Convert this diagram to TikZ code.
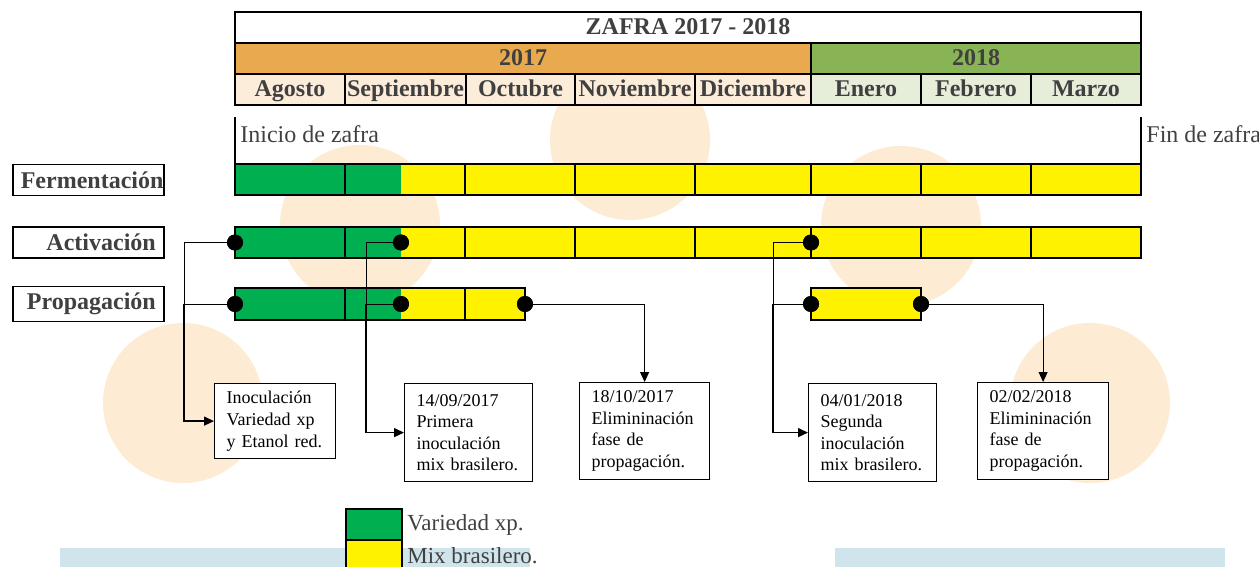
\documentclass[tikz,border=0pt]{standalone}
\usepackage{fontspec}
\setmainfont{Liberation Serif}
\usetikzlibrary{arrows.meta}
\definecolor{peach}{RGB}{253,235,212}
\definecolor{skyb}{RGB}{207,228,235}
\definecolor{orng}{RGB}{232,169,79}
\definecolor{olive}{RGB}{137,180,85}
\definecolor{cream}{RGB}{252,236,218}
\definecolor{pale}{RGB}{230,238,218}
\definecolor{vgreen}{RGB}{0,176,80}
\definecolor{ink}{RGB}{64,64,64}
\tikzset{
  hdr/.style={font=\fontsize{12}{14}\selectfont\bfseries, text=ink, inner sep=0pt, anchor=base},
  phase/.style={draw, line width=0.8pt, fill=white, anchor=west, font=\fontsize{12}{14}\selectfont\bfseries,
    text=ink, align=right, text width=67.5pt, inner xsep=4pt, minimum height=15.5pt},
  evbox/.style={draw, line width=0.6pt, fill=white, anchor=north west, align=left,
    font=\fontsize{9}{10.8}\selectfont, inner xsep=6pt},
  dot/.style={circle, fill=black, inner sep=0pt, minimum size=8pt},
  conn/.style={line width=0.5pt},
  feed/.style={line width=0.7pt, -{Triangle[length=5pt,width=4.5pt]}},
  plain/.style={font=\fontsize{12}{14}\selectfont, text=ink},
}
\begin{document}
\begin{tikzpicture}[x=0.5pt,y=-0.5pt]
\useasboundingbox (0,0) rectangle (1259,567);
\fill[peach] (183,403) ellipse [x radius=80, y radius=80];
\fill[peach] (1090,403) ellipse [x radius=80, y radius=80];
\fill[peach] (360,225) ellipse [x radius=80, y radius=80];
\fill[peach] (630,140) ellipse [x radius=80, y radius=80];
\fill[peach] (901,226) ellipse [x radius=80, y radius=80];
\fill[skyb] (60,548) rectangle (530,567);
\fill[skyb] (835,548) rectangle (1225,567);
% cabecera
\draw[line width=1pt, fill=white] (235,12) rectangle (1141,43);
\draw[line width=1pt, fill=orng] (235,43) rectangle (811,74);
\draw[line width=1pt, fill=olive] (811,43) rectangle (1141,74);
\draw[line width=1pt, fill=cream] (235,74) rectangle (811,105);
\draw[line width=1pt, fill=pale] (811,74) rectangle (1141,105);
\foreach \m in {345,466,575,695,921,1031} \draw[line width=1pt] (\m,74) -- (\m,105);
\node[hdr] (zafra) at (688,35) {ZAFRA 2017 - 2018};
\node[hdr] (y17) at (523,66) {2017};
\node[hdr] (y18) at (976,66) {2018};
\foreach \nm/\cx in {Agosto/290,Septiembre/405.5,Octubre/520.5,Noviembre/635,Diciembre/753,Enero/866,Febrero/976,Marzo/1086}
  \node[hdr] (m-\nm) at (\cx,97) {\nm};
% inicio y fin
\coordinate (ini) at (235,117);
\coordinate (fin) at (1141,117);
\draw[line width=0.8pt] (ini) -- (235,165);
\draw[line width=0.8pt] (fin) -- (1141,165);
\node[plain, anchor=base west, inner sep=0pt] (tini) at (240,142) {Inicio de zafra};
\node[plain, anchor=base west, inner sep=0pt] (tfin) at (1146,142) {Fin de zafra};
% barras
\foreach \r in {164,227} {
  \fill[vgreen] (235,\r) rectangle (401,\r+31);
  \fill[yellow] (401,\r) rectangle (1141,\r+31);
  \foreach \m in {345,465,575,695,811,921,1031} \draw[line width=0.8pt] (\m,\r) -- (\m,\r+31);
  \draw[line width=1pt] (235,\r) rectangle (1141,\r+31);
}
\fill[vgreen] (235,288) rectangle (401,320);
\fill[yellow] (401,288) rectangle (525,320);
\draw[line width=0.8pt] (345,288) -- (345,320);
\draw[line width=0.8pt] (465,288) -- (465,320);
\draw[line width=1pt] (235,288) rectangle (525,320);
\draw[line width=1pt, fill=yellow] (811,288) rectangle (921,320);
\node[phase] (ferm) at (12,180) {Fermentación};
\node[phase] (acti) at (12,242.5) {Activación};
\node[phase] (prop) at (12,304) {Propagación};
% cuadros
\node[evbox, text width=48.5pt, minimum height=37.5pt] (b1) at (214,383) {Inoculación\\Variedad xp\\y Etanol red.};
\node[evbox, text width=52pt, minimum height=49pt] (b2) at (404,383) {14/09/2017\\Primera\\inoculación\\mix brasilero.};
\node[evbox, text width=53pt, minimum height=48.5pt] (b3) at (579,382) {18/10/2017\\Elimininación\\fase de\\propagación.};
\node[evbox, text width=52pt, minimum height=49pt] (b4) at (808,383) {04/01/2018\\Segunda\\inoculación\\mix brasilero.};
\node[evbox, text width=53.5pt, minimum height=48.5pt] (b5) at (977,382) {02/02/2018\\Elimininación\\fase de\\propagación.};
% puntos
\node[dot] (a1) at (235,242.5) {};
\node[dot] (a2) at (401,242.5) {};
\node[dot] (a3) at (811,242.5) {};
\node[dot] (p1) at (235,304) {};
\node[dot] (p2) at (401,304) {};
\node[dot] (p3) at (525,304) {};
\node[dot] (p4) at (811,304) {};
\node[dot] (p5) at (921,304) {};
\coordinate (k1) at (184,304);
\coordinate (k2) at (366,304);
\coordinate (k4) at (773,304);
\draw[conn] (a1.center) -| (k1);
\draw[conn] (p1.center) -- (k1);
\draw[feed] (k1) |- (b1);
\draw[conn] (a2.center) -| (k2);
\draw[conn] (p2.center) -- (k2);
\draw[feed] (k2) |- (b2);
\draw[conn] (a3.center) -| (k4);
\draw[conn] (p4.center) -- (k4);
\draw[feed] (k4) |- (b4);
\draw[conn, -{Triangle[length=5pt,width=4.5pt]}] (p3.center) -| (b3);
\draw[conn, -{Triangle[length=5pt,width=4.5pt]}] (p5.center) -| (b5);
\foreach \d in {a1,a2,a3,p1,p2,p3,p4,p5} \fill (\d) circle (4pt);
% leyenda
\node[draw, line width=1pt, fill=vgreen, anchor=north west, minimum width=28pt, minimum height=15.5pt] (lg) at (345,508) {};
\node[draw, line width=1pt, fill=yellow, anchor=north west, minimum width=28pt, minimum height=15.5pt] (ly) at (345,539) {};
\node[anchor=west, font=\fontsize{11.5}{13}\selectfont, text=ink, inner sep=2pt] (tlg) at (lg.east) {Variedad xp.};
\node[anchor=west, font=\fontsize{11.5}{13}\selectfont, text=ink, inner sep=2pt] (tly) at (ly.east) {Mix brasilero.};
\end{tikzpicture}
\end{document}
